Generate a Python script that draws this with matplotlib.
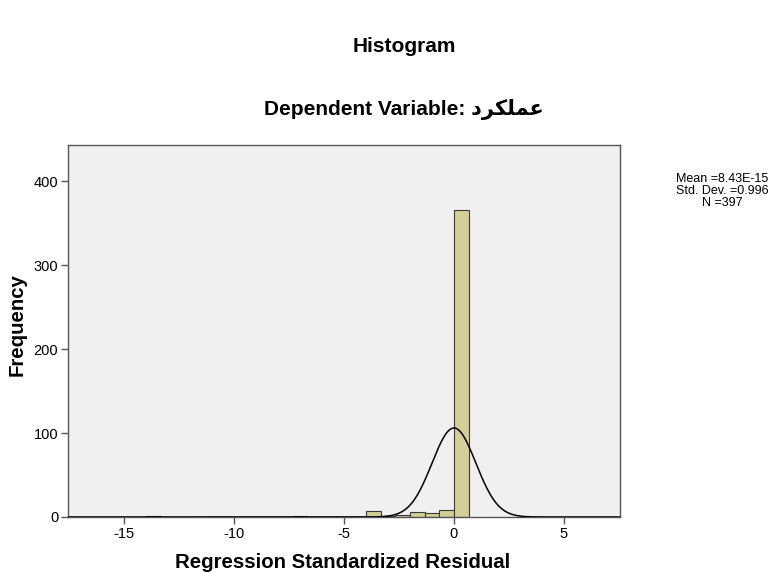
import numpy as np
import matplotlib
matplotlib.use("Agg")
import matplotlib.pyplot as plt

# Data
bin_width = 2.0 / 3.0
bin_left_edges = [-14.0, -22/3, -4.0, -10/3, -8/3, -2.0, -4/3, -2/3, 0.0]
counts = [1, 1, 7, 1, 2, 6, 5, 8, 366]
mean_val = 8.43e-15
std_val = 0.996
n_val = 397
x_ticks = [-15, -10, -5, 0, 5]
y_ticks = [0, 100, 200, 300, 400]
# Persian variable name "عملکرد", written in presentation forms in visual order
dep_var_visual = '\uFEA9\uFEAE\uFB91\uFEE0\uFEE4\uFECB'

plt.rcParams['font.family'] = ['Liberation Sans', 'DejaVu Sans']

fig = plt.figure(figsize=(7.74, 5.73), dpi=100)
ax = fig.add_axes([68/774, 1 - 517/573, (620-68)/774, (517-145)/573])
ax.set_facecolor('#F0F0F0')

ax.bar(bin_left_edges, counts, width=bin_width, align='edge',
       color='#D4CF96', edgecolor='#3a3a3a', linewidth=0.8, zorder=2)

xs = np.linspace(-17.6, 7.6, 800)
pdf = n_val * bin_width / (std_val * np.sqrt(2 * np.pi)) * np.exp(-0.5 * ((xs - mean_val) / std_val) ** 2)
ax.plot(xs, pdf, color='black', linewidth=1.1, zorder=3)

ax.set_xlim(-17.55, 7.55)
ax.set_ylim(0, 443)
ax.set_xticks(x_ticks)
ax.set_xticklabels([str(t) for t in x_ticks])
ax.set_yticks(y_ticks)
for s in ax.spines.values():
    s.set_color('#555555')
    s.set_linewidth(1.0)
ax.tick_params(direction='out', length=5, width=1, color='#555555', labelsize=10.5, pad=2)

ax.set_ylabel('Frequency', fontsize=14.7, fontweight='bold', va='center')
ax.set_xlabel('Regression Standardized Residual', fontsize=14.7, fontweight='bold', va='center')
ax.xaxis.set_label_coords((343 - 68) / 552, (517 - 562) / 372)
ax.yaxis.set_label_coords((17 - 68) / 552, (517 - 325) / 372)

fig.text(404/774, 1 - 47/573, 'Histogram', ha='center', va='center', fontsize=15, fontweight='bold')
fig.text(404/774, 1 - 110/573, 'Dependent Variable: ' + dep_var_visual, ha='center', va='center',
         fontsize=15, fontweight='bold', family=['Liberation Sans', 'DejaVu Sans'])

fig.text(722/774, 1 - 191/573,
         'Mean =8.43E-15\nStd. Dev. =0.996\nN =397',
         ha='center', va='center', fontsize=9, linespacing=0.95)

fig.savefig('out.png', dpi=100)
